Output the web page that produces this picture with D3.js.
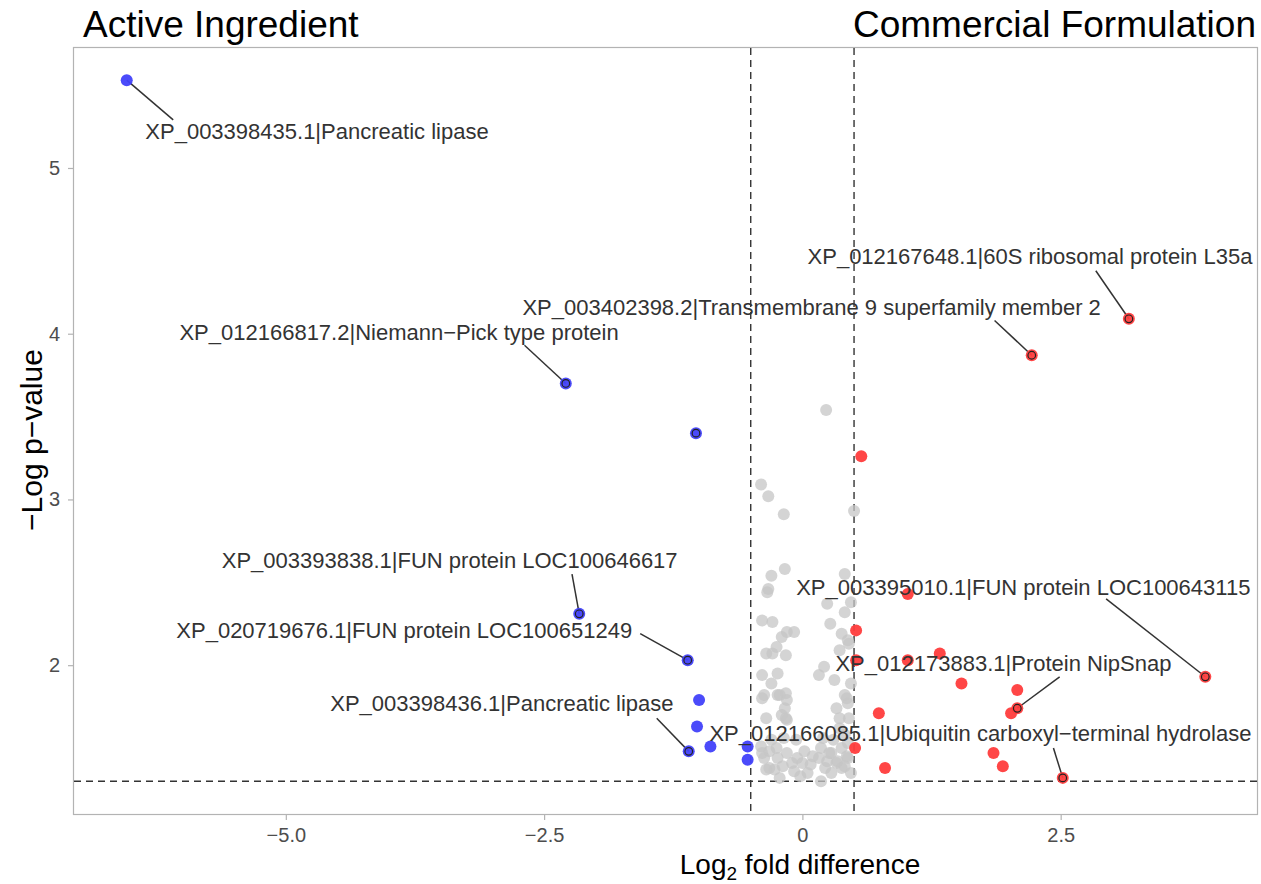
<!DOCTYPE html>
<html>
<head>
<meta charset="utf-8">
<script src="https://cdn.jsdelivr.net/npm/d3@7"></script>
<style>
  body { margin: 0; background: #fff; }
  svg { font-family: "Liberation Sans", Arial, sans-serif; }
</style>
</head>
<body>
<svg id="chart" width="1261" height="884"></svg>
<script>
// log2 fold difference / -log10 p-value, not significant
const greyPoints = [
  [0.23,3.54],[-0.40,3.09],[-0.33,3.02],[-0.18,2.91],[0.50,2.93],
  [-0.30,2.54],[-0.17,2.58],[-0.33,2.46],[0.41,2.55],[-0.34,2.44],
  [0.24,2.37],[0.41,2.32],[0.47,2.38],[-0.39,2.27],[-0.29,2.26],
  [-0.15,2.20],[-0.08,2.20],[-0.20,2.17],[0.27,2.25],[0.38,2.19],[0.44,2.15],
  [-0.35,2.07],[-0.29,2.07],[-0.25,2.11],[-0.16,2.06],[0.36,2.09],[0.45,2.13],
  [0.21,1.99],[0.16,1.94],[0.31,1.91],[0.47,1.89],[-0.39,1.94],[-0.24,1.95],[-0.30,1.89],
  [-0.37,1.82],[-0.24,1.82],[-0.16,1.83],[-0.15,1.79],[-0.17,1.74],[0.41,1.82],[0.44,1.77],[0.33,1.74],
  [-0.35,1.68],[-0.16,1.68],[0.45,1.68],[-0.15,1.67],[0.36,1.68],[0.43,1.80],
  [-0.39,1.80],[-0.22,1.82],[-0.20,1.70],
  [-0.40,1.51],[-0.32,1.48],[-0.25,1.50],[-0.37,1.44],[-0.24,1.44],[-0.15,1.47],[-0.10,1.41],[-0.05,1.44],
  [-0.32,1.38],[-0.22,1.32],[-0.08,1.36],[0.05,1.35],[0.00,1.41],[-0.27,1.37],[-0.35,1.37],[-0.19,1.39],
  [-0.39,1.47],[-0.30,1.55],[-0.18,1.56],[-0.06,1.55],[0.02,1.48],[-0.02,1.33],
  [0.18,1.50],[0.28,1.47],[0.38,1.50],[0.44,1.53],[0.41,1.58],[0.16,1.44],[0.24,1.42],[0.34,1.42],[0.44,1.44],
  [0.28,1.35],[0.18,1.30],[0.38,1.38],[0.47,1.35],[0.26,1.47],[0.33,1.41],[0.43,1.45],[0.41,1.39],
  [0.08,1.40],[0.10,1.45],[0.22,1.38],[0.30,1.55],[0.36,1.62],[0.20,1.56]
];

// higher in active ingredient
const bluePoints = [
  [-6.54,5.53],[-2.29,3.70],[-1.03,3.40],[-2.16,2.31],[-1.11,2.03],
  [-1.00,1.79],[-1.02,1.63],[-0.89,1.51],[-1.10,1.48],[-0.53,1.51],[-0.53,1.43]
];

// higher in commercial formulation
const redPoints = [
  [0.57,3.26],[3.16,4.09],[2.22,3.87],[1.02,2.43],[0.52,2.21],[1.33,2.07],[1.02,2.03],
  [0.52,2.03],[1.54,1.89],[2.08,1.85],[2.08,1.74],[2.02,1.71],[0.74,1.71],[0.51,1.50],
  [1.85,1.47],[1.94,1.39],[0.80,1.38],[2.52,1.32],[3.90,1.93]
];

// highlighted proteins (ringed points)
const ringed = [
  [-2.29,3.70],[-1.03,3.40],[-2.16,2.31],[-1.11,2.03],[-1.10,1.48],
  [3.16,4.09],[2.22,3.87],[2.08,1.74],[2.52,1.32],[3.90,1.93]
];

const labelTexts = [
  "XP_003398435.1|Pancreatic lipase",
  "XP_012166817.2|Niemann\u2212Pick type protein",
  "XP_003393838.1|FUN protein LOC100646617",
  "XP_020719676.1|FUN protein LOC100651249",
  "XP_003398436.1|Pancreatic lipase",
  "XP_012166085.1|Ubiquitin carboxyl\u2212terminal hydrolase",
  "XP_012173883.1|Protein NipSnap",
  "XP_003395010.1|FUN protein LOC100643115",
  "XP_003402398.2|Transmembrane 9 superfamily member 2",
  "XP_012167648.1|60S ribosomal protein L35a"
];
const labelPoints = [
  [-6.54,5.53],[-2.29,3.70],[-2.16,2.31],[-1.11,2.03],[-1.10,1.48],
  [2.52,1.32],[2.08,1.74],[3.90,1.93],[2.22,3.87],[3.16,4.09]
];

const xTicks = [-5, -2.5, 0, 2.5];
const yTicks = [2, 3, 4, 5];
const fcCut = 0.5;
const pCut = 1.30;

// repel layout: label start (x, mid y) and segment end, in data units
const labelPlace = [
  [-6.36,5.22,-6.09,5.29],
  [-6.03,4.01,-2.69,3.93],
  [-5.62,2.63,-2.23,2.55],
  [-6.06,2.21,-1.57,2.19],
  [-4.57,1.77,-1.41,1.68],
  [-0.90,1.59,2.43,1.50],
  [0.32,2.01,2.49,1.93],
  [-0.06,2.47,2.94,2.40],
  [-2.71,4.16,1.86,4.08],
  [0.05,4.47,2.84,4.38]
];

const svg = d3.select("#chart");
const pLeft = 73, pRight = 1258, pTop = 47, pBottom = 815;

const x = d3.scaleLinear().domain([-7.06, 4.41]).range([pLeft, pRight]);
const y = d3.scaleLinear().domain([1.096, 5.73]).range([pBottom, pTop]);

// panel border
svg.append("rect")
  .attr("x", pLeft + 0.5).attr("y", pTop + 0.5)
  .attr("width", pRight - pLeft - 1).attr("height", pBottom - pTop - 1)
  .attr("fill", "none").attr("stroke", "#b3b3b3").attr("stroke-width", 1.2);

const xAxis = svg.append("g")
  .attr("transform", `translate(0,${pBottom})`)
  .call(d3.axisBottom(x).tickValues(xTicks).tickSize(5).tickPadding(8)
    .tickFormat(d => d === 0 ? "0" : d3.format(".1f")(d)));
const yAxis = svg.append("g")
  .attr("transform", `translate(${pLeft},0)`)
  .call(d3.axisLeft(y).tickValues(yTicks).tickSize(5).tickPadding(8).tickFormat(d3.format("d")));
[xAxis, yAxis].forEach(a => {
  a.select(".domain").remove();
  a.selectAll(".tick line").attr("stroke", "#b3b3b3").attr("stroke-width", 1.2);
  a.selectAll(".tick text").attr("fill", "#4d4d4d").attr("font-size", 20)
    .attr("font-family", "Liberation Sans, Arial, sans-serif");
});

// threshold lines
const dash = "7,5";
[-fcCut, fcCut].forEach(v => {
  svg.append("line")
    .attr("x1", x(v)).attr("x2", x(v)).attr("y1", pTop + 1).attr("y2", pBottom - 1)
    .attr("stroke", "#333").attr("stroke-width", 1.4).attr("stroke-dasharray", dash);
});
svg.append("line")
  .attr("x1", pLeft + 1).attr("x2", pRight - 1).attr("y1", y(pCut)).attr("y2", y(pCut))
  .attr("stroke", "#333").attr("stroke-width", 1.4).attr("stroke-dasharray", dash);

// connector segments
svg.append("g").selectAll("line")
  .data(labelPlace)
  .join("line")
  .attr("x1", (d, i) => x(labelPoints[i][0]))
  .attr("y1", (d, i) => y(labelPoints[i][1]))
  .attr("x2", d => x(d[2]))
  .attr("y2", d => y(d[3]))
  .attr("stroke", "#333").attr("stroke-width", 1.5);

const dots = (data, color, opacity) => svg.append("g").selectAll("circle")
  .data(data)
  .join("circle")
  .attr("cx", d => x(d[0]))
  .attr("cy", d => y(d[1]))
  .attr("r", 6)
  .attr("fill", color)
  .attr("fill-opacity", opacity);

dots(greyPoints, "#c6c6c6", 0.75);
dots(bluePoints, "#4141fa", 0.95);
dots(redPoints, "#ff3c3c", 0.95);

svg.append("g").selectAll("circle")
  .data(ringed)
  .join("circle")
  .attr("cx", d => x(d[0]))
  .attr("cy", d => y(d[1]))
  .attr("r", 3.8)
  .attr("fill", "none")
  .attr("stroke", "#222")
  .attr("stroke-width", 1.2);

// labels
svg.append("g").selectAll("text")
  .data(labelTexts)
  .join("text")
  .attr("x", (d, i) => x(labelPlace[i][0]))
  .attr("y", (d, i) => y(labelPlace[i][1]))
  .attr("dy", "0.35em")
  .attr("font-size", 22)
  .attr("fill", "#333")
  .text(d => d);

// axis titles
const xt = svg.append("text")
  .attr("x", 800).attr("y", 874)
  .attr("text-anchor", "middle")
  .attr("font-size", 28).attr("fill", "#000");
xt.append("tspan").text("Log");
xt.append("tspan").attr("font-size", 19).attr("dy", 6).text("2");
xt.append("tspan").attr("dy", -6).text(" fold difference");

svg.append("text")
  .attr("transform", `translate(42,440) rotate(-90)`)
  .attr("text-anchor", "middle")
  .attr("font-size", 30).attr("fill", "#000")
  .text("\u2212Log p\u2212value");

// group headings
svg.append("text")
  .attr("x", 83).attr("y", 37)
  .attr("font-size", 37).attr("fill", "#000")
  .text("Active Ingredient");
svg.append("text")
  .attr("x", 1256).attr("y", 37)
  .attr("text-anchor", "end")
  .attr("font-size", 37).attr("fill", "#000")
  .text("Commercial Formulation");
</script>
</body>
</html>
